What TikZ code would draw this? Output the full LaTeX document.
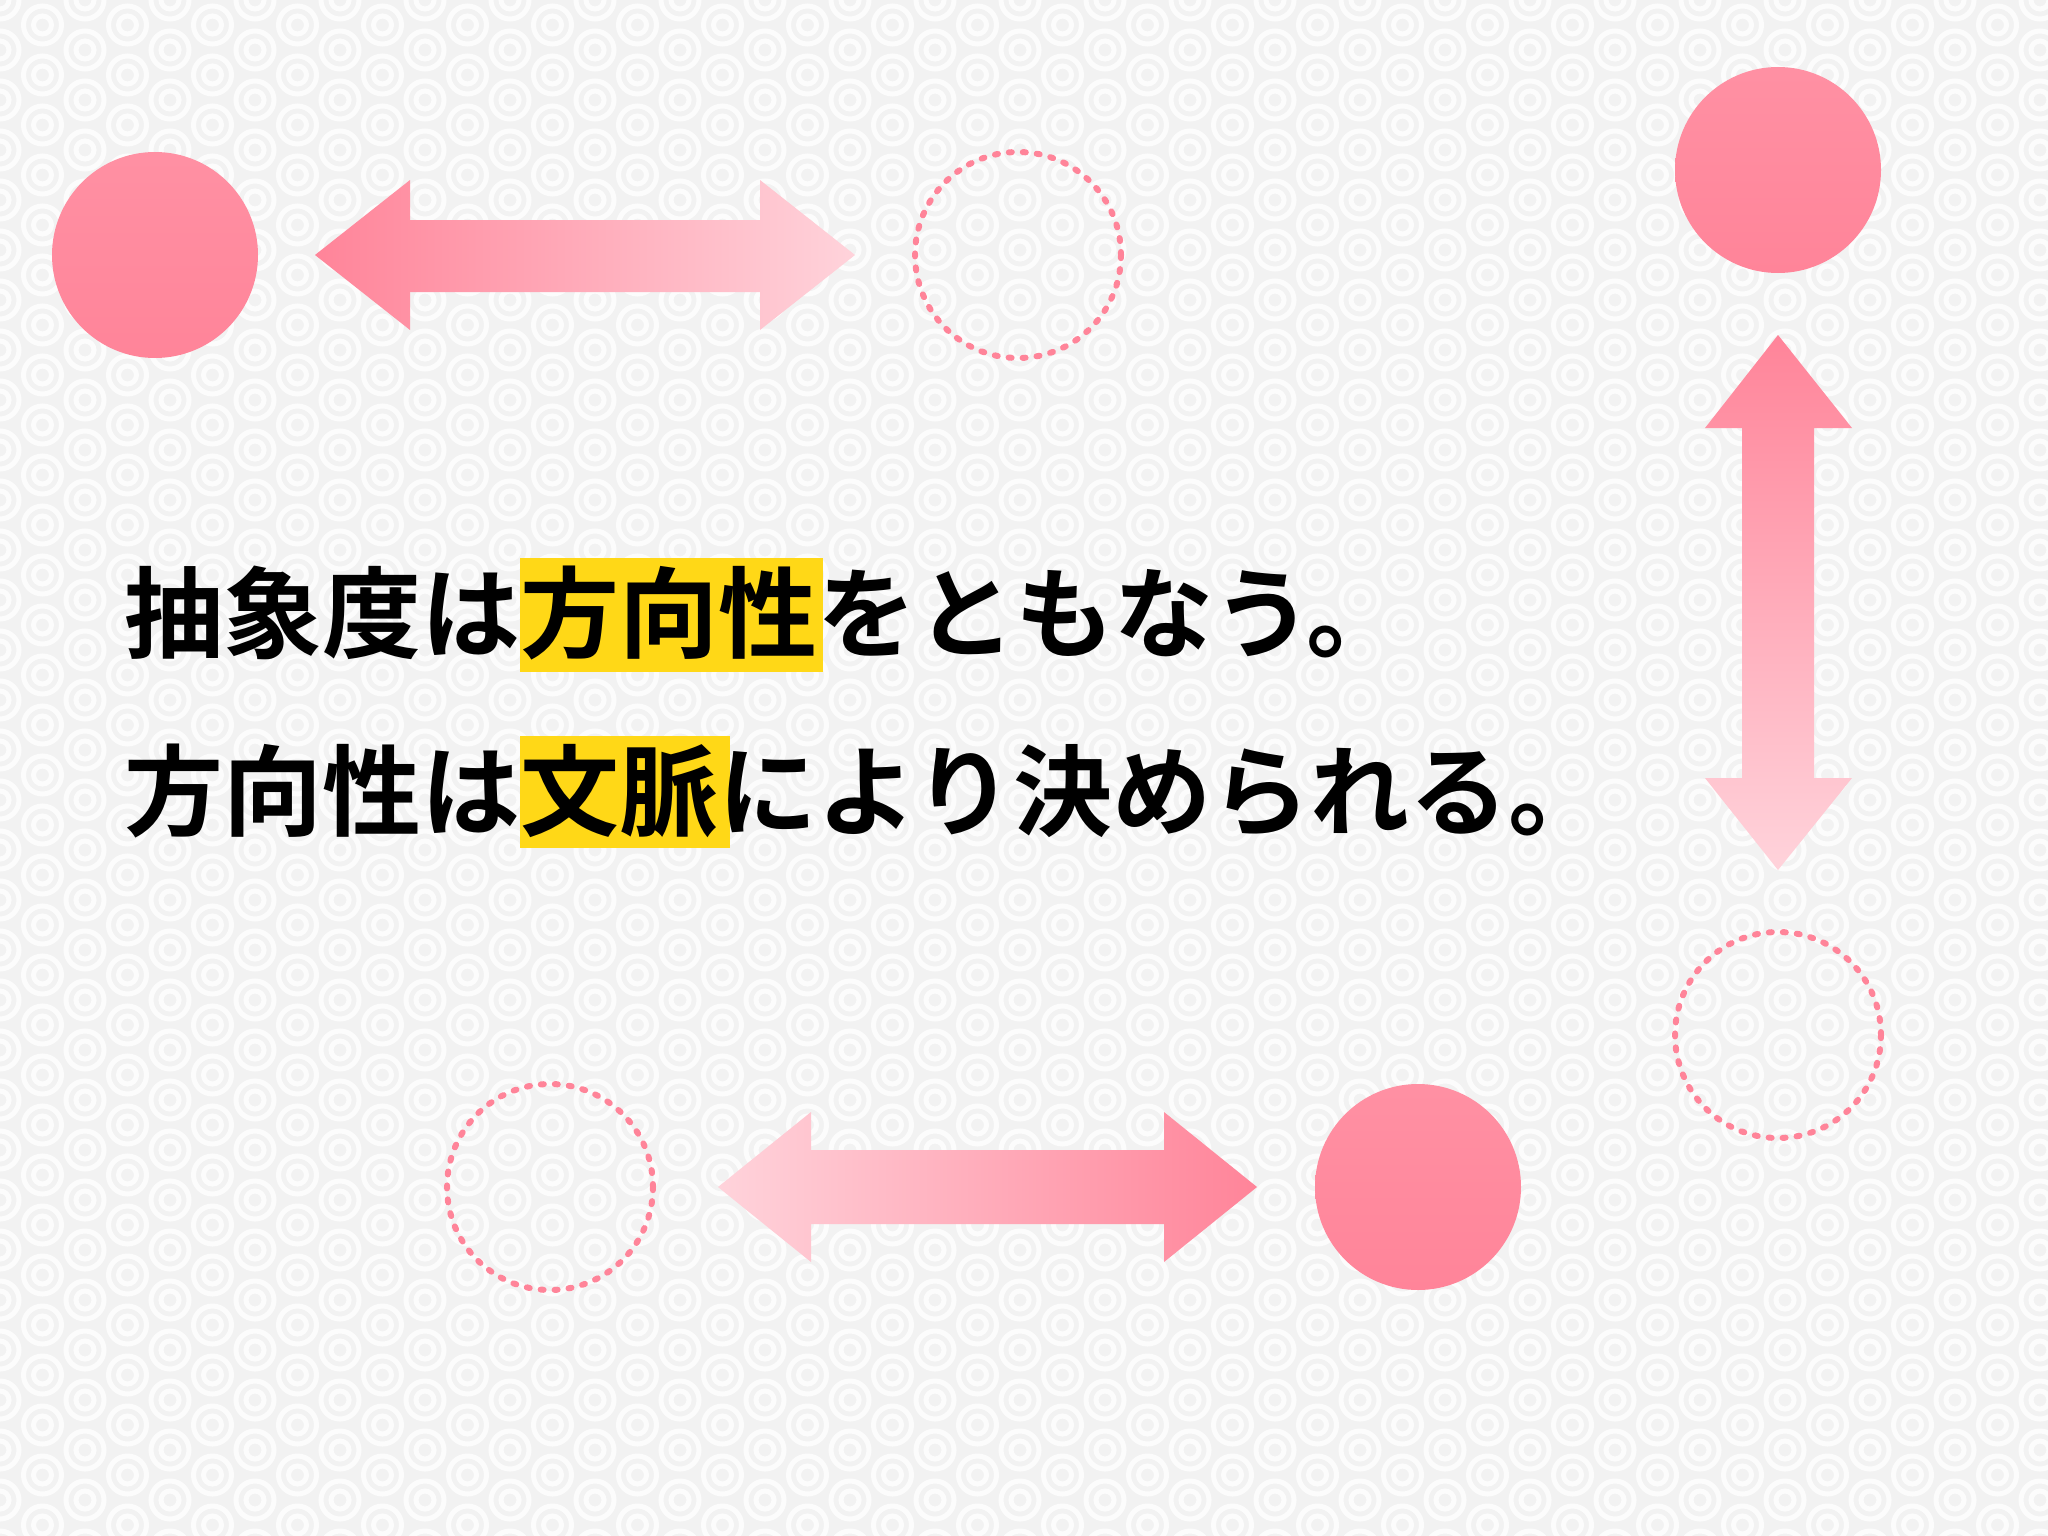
\documentclass[tikz,border=0pt]{standalone}
\usepackage{fontspec}
\newfontfamily\cjk{Noto Sans CJK JP Bold}
\usetikzlibrary{shadings}
\definecolor{pk}{HTML}{FF8499}
\definecolor{pkl}{HTML}{FFC8D2}
\definecolor{hl}{HTML}{FFD817}
\definecolor{bg}{HTML}{F2F2F2}
\begin{document}
\begin{tikzpicture}[x=1pt,y=-1pt,
  solid/.style={circle,minimum size=206pt,inner sep=0,left color=pk!90,right color=pk,shading angle=0},
  dcirc/.style={circle,minimum size=206pt,inner sep=0,draw=pk,line width=6pt,line cap=round,dash pattern=on 3pt off 11pt},
  txt/.style={font=\cjk\fontsize{99}{100}\selectfont,anchor=base west,inner sep=0},
  hlbox/.style={fill=hl}]
\fill[bg] (0,0) rectangle (2048,1536);
\useasboundingbox (0,0) rectangle (2048,1536);
\foreach \r in {0,...,62}{
  \pgfmathsetmacro{\yy}{\r*25}
  \pgfmathsetmacro{\off}{mod(\r,2)*42.5}
  \foreach \c in {0,...,24}{
    \pgfmathsetmacro{\xx}{\c*85+\off}
    \draw[white,line width=5pt,opacity=0.8] (\xx,\yy) circle (19) (\xx,\yy) circle (9);
  }
}
% circles
\node[solid] (c1) at (155,255) {};
\node[dcirc] (d1) at (1018,255) {};
\node[solid] (c2) at (1778,170) {};
\node[dcirc] (d2) at (1778,1035) {};
\node[dcirc] (d3) at (550,1187) {};
\node[solid] (c3) at (1418,1187) {};
% arrows
\shade[left color=pk,right color=pkl!80] (315,255) -- (410,180) -- (410,220) -- (760,220) -- (760,180) -- (855,255) -- (760,330) -- (760,292) -- (410,292) -- (410,330) -- cycle;
\shade[top color=pk,bottom color=pkl!80] (1778,335) -- (1852,428) -- (1814,428) -- (1814,778) -- (1852,778) -- (1778,870) -- (1705,778) -- (1742,778) -- (1742,428) -- (1705,428) -- cycle;
\shade[left color=pkl!80,right color=pk] (718,1187) -- (811,1112) -- (811,1150) -- (1164,1150) -- (1164,1112) -- (1257,1187) -- (1164,1262) -- (1164,1224) -- (811,1224) -- (811,1262) -- cycle;
% highlights
\fill[hlbox] (520,558) rectangle (823,672);
\fill[hlbox] (520,736) rectangle (730,848);
\node[txt] (t1) at (124,650) {抽象度は方向性をともなう。};
\node[txt] (t2) at (124,828) {方向性は文脈により決められる。};
\end{tikzpicture}
\end{document}
